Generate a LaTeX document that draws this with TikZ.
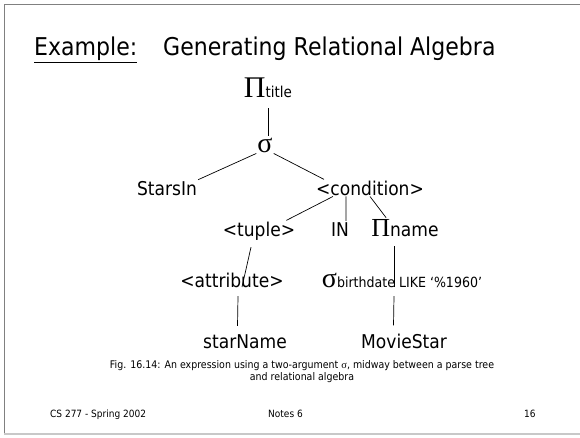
\documentclass[tikz,border=0pt]{standalone}
\usepackage{fontspec}
\setmainfont{DejaVu Sans}[FakeStretch=0.9]
\newfontfamily\symf{Liberation Serif}
\usetikzlibrary{positioning}
\newcommand{\fsz}[1]{\fontsize{#1}{#1}\selectfont}
\definecolor{framegray}{RGB}{128,128,128}
\definecolor{footgray}{RGB}{200,200,200}

\tikzset{
  tree/.style={font=\fsz{19}, inner sep=1pt, anchor=base},
  link/.style={line width=0.7pt},
  foot/.style={anchor=base west, font=\fsz{10}, inner sep=0pt},
}

\begin{document}
\begin{tikzpicture}[x=1pt, y=-1pt, on grid]
  \useasboundingbox (0,0) rectangle (580,437);
  \draw[framegray, line width=1pt] (580,4) -- (4,4) -- (4,434);
  \draw[footgray, line width=1.5pt] (4,434) -- (580,434);

  \node[anchor=base west, inner sep=0pt, font=\fsz{24.5}] (ex) at (34,55) {Example:};
  \node[anchor=base west, inner sep=0pt, font=\fsz{24.5}] (gen) at (163,55) {Generating Relational Algebra};
  \draw[link] ([yshift=-7pt]ex.base west) -- ([yshift=-7pt]ex.base east);

  \node[tree] (pt) at (268,97) {{\symf\fsz{30}Π}{\fsz{15}title}};
  \node[below left=55pt and 3pt of pt.base, tree] (sg) {\symf\fsz{28}σ};
  \node[below left=43pt and 98pt of sg.base, tree] (starsin) {StarsIn};
  \node[below right=43pt and 105pt of sg.base, tree] (cond) {<condition>};
  \node[below left=41pt and 111pt of cond.base, tree] (tuple) {<tuple>};
  \node[below left=41pt and 30pt of cond.base, tree] (in) {IN};
  \node[below right=41pt and 35pt of cond.base, tree] (pn) {{\symf\fsz{26}Π}name};
  \node[below left=51pt and 27pt of tuple.base, tree] (attr) {<attribute>};
  \node[below left=51pt and 3pt of pn.base, tree] (sb) {{\symf\fsz{28}σ}{\fsz{14}birthdate LIKE ‘\%1960’}};
  \node[below right=61pt and 13pt of attr.base, tree] (starname) {starName};
  \node[below right=61pt and 2pt of sb.base, tree] (moviestar) {MovieStar};

  \draw[link] ([yshift=-10pt]pt.south) -- (pt.south |- sg.north);
  \draw[link] (sg.south west) -- (starsin.north east);
  \draw[link] (sg.south east) -- ([xshift=9pt]cond.north west);
  \draw[link] ([xshift=18pt]cond.south west) -- ([xshift=-10pt]tuple.north east);
  \draw[link] ([xshift=31pt]cond.south west) -- ([xshift=6pt]in.north);
  \draw[link] (cond.south) -- ([xshift=16pt]pn.north west);
  \draw[link] ([xshift=-8pt,yshift=-6pt]tuple.south) -- ([xshift=10pt]attr.base);
  \draw[link] ([xshift=-11pt,yshift=-10pt]pn.base) -- ([xshift=-8pt]sb.base);
  \draw[link] ([xshift=6pt,yshift=-9pt]attr.base) -- ([xshift=-7.5pt,yshift=7pt]starname.north);
  \draw[link] ([xshift=-8pt,yshift=-9pt]sb.base) -- ([xshift=-10.5pt,yshift=7pt]moviestar.north);

  \node[anchor=base, align=center, font=\fontsize{10.5}{11.5}\selectfont] (cap) at (302,380)
    {Fig. 16.14: An expression using a two-argument {\symf σ}, midway between a parse tree\\and relational algebra};

  \node[foot] (course) at (50,417) {CS 277 - Spring 2002};
  \node[foot] (notes) at (268,417) {Notes 6};
  \node[foot] (page) at (524,417) {16};
\end{tikzpicture}
\end{document}
